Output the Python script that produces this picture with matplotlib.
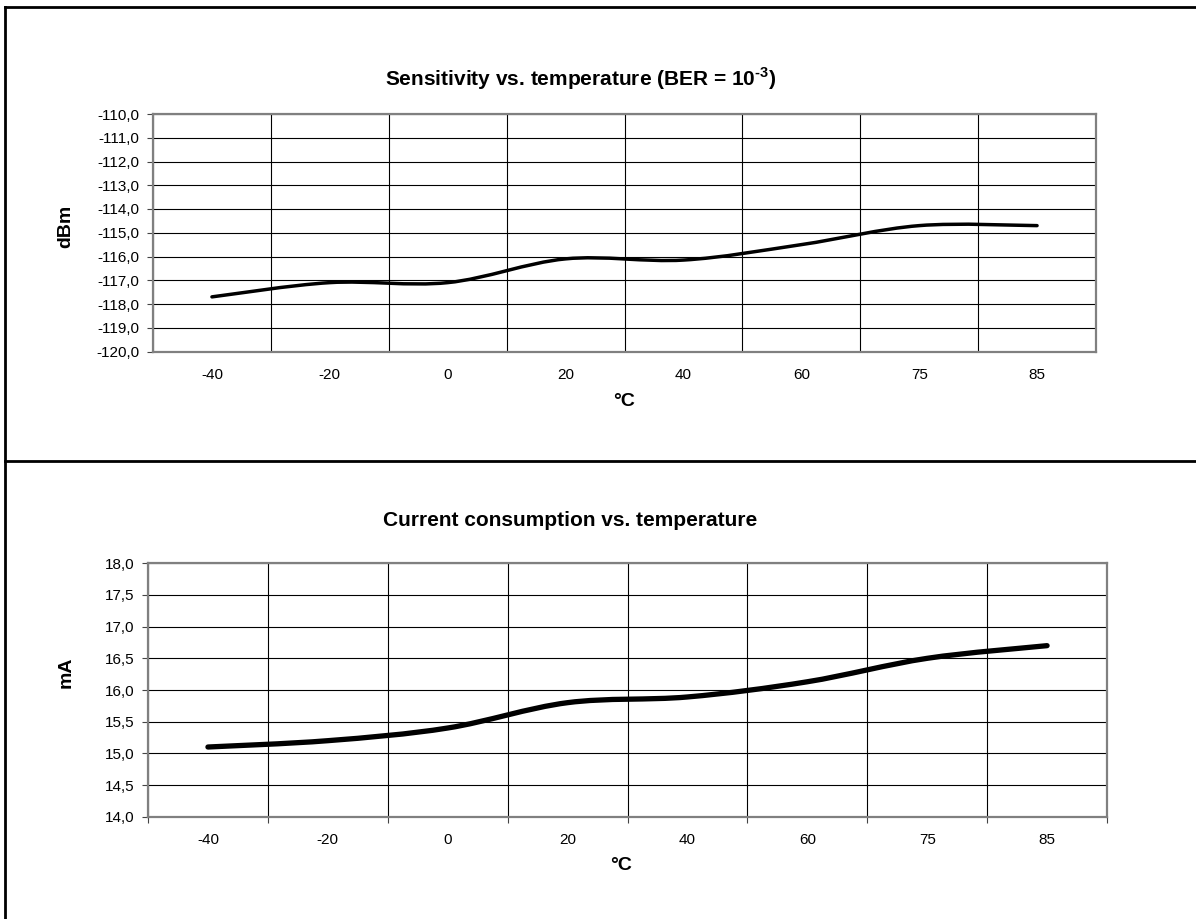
import matplotlib
matplotlib.use("Agg")
import matplotlib.pyplot as plt
from matplotlib.path import Path
from matplotlib.patches import PathPatch
from matplotlib.lines import Line2D
from matplotlib.ticker import FixedLocator, FuncFormatter

plt.rcParams['font.family'] = ['Liberation Sans', 'DejaVu Sans']
plt.rcParams['mathtext.fontset'] = 'custom'
plt.rcParams['mathtext.rm'] = 'Liberation Sans:bold'
plt.rcParams['mathtext.bf'] = 'Liberation Sans:bold'

# data
temps = ['-40', '-20', '0', '20', '40', '60', '75', '85']
sensitivity = [-117.7, -117.1, -117.1, -116.1, -116.15, -115.5, -114.7, -114.7]
current = [15.1, 15.2, 15.4, 15.8, 15.89, 16.13, 16.5, 16.7]

W, H = 1196, 919
fig = plt.figure(figsize=(W / 100, H / 100), dpi=100)


def px_axes(left, top, right, bottom):
    return fig.add_axes([left / W, 1 - bottom / H, (right - left) / W, (bottom - top) / H])


def smooth_path(xs, ys):
    # excel style smoothed line: cubic bezier through each point
    pts = list(zip(xs, ys))
    verts = [pts[0]]
    codes = [Path.MOVETO]
    n = len(pts)
    for i in range(n - 1):
        p0 = pts[i - 1] if i > 0 else pts[i]
        p1 = pts[i]
        p2 = pts[i + 1]
        p3 = pts[i + 2] if i + 2 < n else pts[i + 1]
        c1 = (p1[0] + (p2[0] - p0[0]) / 6, p1[1] + (p2[1] - p0[1]) / 6)
        c2 = (p2[0] - (p3[0] - p1[0]) / 6, p2[1] - (p3[1] - p1[1]) / 6)
        verts += [c1, c2, p2]
        codes += [Path.CURVE4] * 3
    return Path(verts, codes)


def style_axes(ax, ymin, ymax, ystep, fmt, xticks_out):
    ax.set_xlim(-0.5, len(temps) - 0.5)
    ax.set_ylim(ymin, ymax)
    ax.set_xticks(range(len(temps)))
    ax.set_xticklabels(temps)
    ax.xaxis.set_minor_locator(FixedLocator([i + 0.5 for i in range(-1, len(temps))]))
    yt = [ymin + i * ystep for i in range(int(round((ymax - ymin) / ystep)) + 1)]
    ax.set_yticks(yt)
    ax.yaxis.set_major_formatter(FuncFormatter(lambda v, p: fmt.format(v).replace('.', ',')))
    ax.tick_params(axis='x', which='major', length=0, pad=12, labelsize=11)
    ax.tick_params(axis='x', which='minor', length=4 if xticks_out else 0,
                   direction='out', width=0.8, color='#444444')
    ax.tick_params(axis='y', length=4, direction='out', width=0.8, pad=6,
                   labelsize=11, color='#444444')
    ax.grid(True, axis='y', which='major', color='black', linewidth=0.8)
    ax.grid(True, axis='x', which='minor', color='black', linewidth=0.8)
    for s in ax.spines.values():
        s.set_color('#808080')
        s.set_linewidth(1.6)
    ax.set_axisbelow(True)


# upper chart: sensitivity
ax1 = px_axes(153, 114, 1096, 351.5)
style_axes(ax1, -120, -110, 1.0, '{:.1f}', False)
ax1.add_patch(PathPatch(smooth_path(range(len(temps)), sensitivity), fill=False,
                        edgecolor='black', linewidth=2.5, capstyle='round', zorder=3))
fig.text(581 / W, 1 - 79 / H, r'Sensitivity vs. temperature (BER = 10$^{\text{-}3}$)',
         ha='center', va='center', fontsize=15, fontweight='bold')
fig.text(624 / W, 1 - 401 / H, '°C', ha='center', va='center', fontsize=14, fontweight='bold')
fig.text(66 / W, 1 - 226 / H, 'dBm', ha='center', va='center', rotation=90,
         fontsize=14, fontweight='bold')

# lower chart: current consumption
ax2 = px_axes(148, 563.3, 1107, 816.7)
style_axes(ax2, 14.0, 18.0, 0.5, '{:.1f}', True)
ax2.add_patch(PathPatch(smooth_path(range(len(temps)), current), fill=False,
                        edgecolor='black', linewidth=3.8, capstyle='round', zorder=3))
fig.text(570 / W, 1 - 521 / H, 'Current consumption vs. temperature',
         ha='center', va='center', fontsize=15, fontweight='bold')
fig.text(621 / W, 1 - 866 / H, '°C', ha='center', va='center', fontsize=14, fontweight='bold')
fig.text(66 / W, 1 - 672 / H, 'mA', ha='center', va='center', rotation=90,
         fontsize=14, fontweight='bold')

# outer frame lines
for xs, ys in [([5, 5], [6.7, H]), ([5, W], [6.7, 6.7]), ([5, W], [461, 461])]:
    fig.add_artist(Line2D([x / W for x in xs], [1 - y / H for y in ys],
                          transform=fig.transFigure, color='black', linewidth=2))

fig.savefig('out.png', dpi=100)
